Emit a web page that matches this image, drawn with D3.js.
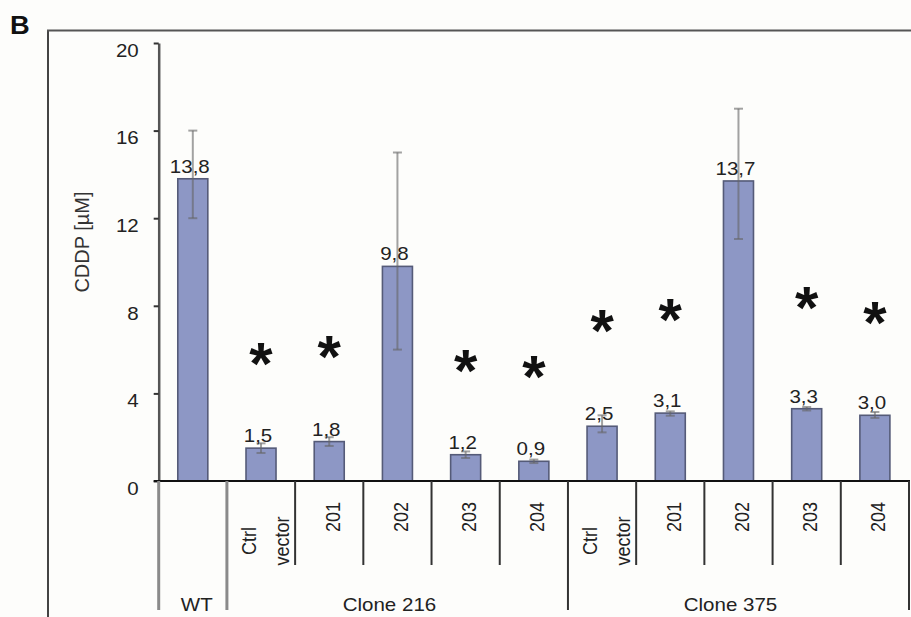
<!DOCTYPE html>
<html>
<head>
<meta charset="utf-8">
<script src="https://cdn.jsdelivr.net/npm/d3@7/dist/d3.min.js"></script>
<style>
  html, body { margin: 0; padding: 0; background: #fdfdfb; }
  svg { display: block; }
  text { font-family: "Liberation Sans", Arial, sans-serif; }
</style>
</head>
<body>
<svg id="chart" width="911" height="617"></svg>
<script>
// ---- data ----
const categories = ["WT", "Ctrl vector", "201", "202", "203", "204", "Ctrl vector", "201", "202", "203", "204"];
const values     = [13.8, 1.5, 1.8, 9.8, 1.2, 0.9, 2.5, 3.1, 13.7, 3.3, 3.0];
const valueLabels = ["13,8", "1,5", "1,8", "9,8", "1,2", "0,9", "2,5", "3,1", "13,7", "3,3", "3,0"];
const errHigh    = [16.0, 1.72, 2.0, 15.0, 1.35, 0.98, 3.0, 3.18, 17.0, 3.38, 3.15];
const errLow     = [12.0, 1.28, 1.6, 6.0, 1.05, 0.82, 2.22, 2.98, 11.05, 3.22, 2.88];
const starY      = [null, 5.75, 6.07, null, 5.43, 5.2, 7.26, 7.76, null, 8.31, 7.63];
const groupNames = ["WT", "Clone 216", "Clone 375"];
const groupStart = [0, 1, 6];
const groupEnd   = [0, 5, 10];
const yTicks     = [0, 4, 8, 12, 16, 20];
const yLabel     = "CDDP [\u00b5M]";
const panelLabel = "B";

// ---- layout ----
const svg = d3.select("#chart");
const x0 = 158.7, x1 = 909, yTop = 43, yZero = 481, yBottom = 610, yShort = 565;
const x = d3.scaleBand().domain(d3.range(categories.length)).range([x0, x1]).padding(0);
const y = d3.scaleLinear().domain([0, 20]).range([yZero, yTop]);
const bw = x.bandwidth();
const barW = bw * 0.44;
const ink = "#222";
const SX = 1.14; // horizontal stretch of the text in the reference

// panel frame
svg.append("line").attr("x1", 48).attr("x2", 48).attr("y1", 30).attr("y2", 617)
  .attr("stroke", "#444").attr("stroke-width", 2);
svg.append("line").attr("x1", 47).attr("x2", 911).attr("y1", 30.5).attr("y2", 30.5)
  .attr("stroke", "#555").attr("stroke-width", 2);
svg.append("text").attr("transform", `translate(10,34) scale(1.05,1)`).text(panelLabel)
  .attr("font-size", 26).attr("font-weight", "bold").attr("fill", "#111");

// y axis
const yAxis = d3.axisLeft(y).tickValues(yTicks).tickSize(5).tickSizeOuter(0).tickPadding(15);
const gy = svg.append("g").attr("transform", `translate(${x0},0)`).call(yAxis);
gy.select(".domain").attr("stroke", "#555").attr("stroke-width", 2.5);
gy.selectAll(".tick line").attr("stroke", "#333").attr("stroke-width", 2);
gy.selectAll(".tick text").attr("font-size", 18).attr("fill", ink)
  .attr("font-family", "'Liberation Sans', Arial, sans-serif").attr("dy", "0.74em")
  .attr("x", -20 / SX).attr("transform", `scale(${SX},1)`);

svg.append("text")
  .attr("transform", `translate(89,${242}) rotate(-90)`)
  .attr("text-anchor", "middle").attr("font-size", 20).attr("fill", "#333")
  .text(yLabel);

// bars
const idx = d3.range(categories.length);
svg.append("g").selectAll("rect").data(idx).join("rect")
  .attr("x", i => x(i) + (bw - barW) / 2)
  .attr("width", barW)
  .attr("y", i => y(values[i]))
  .attr("height", i => y(0) - y(values[i]))
  .attr("fill", "#8d97c5").attr("stroke", "#555b78").attr("stroke-width", 1.6);

// error bars
const eg = svg.append("g").attr("stroke", "#666").attr("stroke-opacity", 0.6).attr("stroke-width", 2);
idx.forEach(i => {
  const cx = x(i) + bw / 2;
  eg.append("line").attr("x1", cx).attr("x2", cx).attr("y1", y(errLow[i])).attr("y2", y(errHigh[i]));
  eg.append("line").attr("x1", cx - 4.5).attr("x2", cx + 4.5).attr("y1", y(errLow[i])).attr("y2", y(errLow[i]));
  eg.append("line").attr("x1", cx - 4.5).attr("x2", cx + 4.5).attr("y1", y(errHigh[i])).attr("y2", y(errHigh[i]));
});

// value labels
svg.append("g").selectAll("text").data(idx).join("text")
  .attr("transform", i => `translate(${x(i) + bw / 2 - 3},${y(values[i]) - 6}) scale(${SX},1)`)
  .attr("text-anchor", "middle").attr("font-size", 18).attr("fill", ink)
  .text(i => valueLabels[i]);

// stars
const starFs = 60;
svg.append("g").selectAll("text").data(idx.filter(i => starY[i] != null)).join("text")
  .attr("x", i => x(i) + bw / 2)
  .attr("y", i => y(starY[i]) + starFs * 0.49)
  .attr("text-anchor", "middle").attr("font-size", starFs).attr("font-weight", "bold")
  .attr("fill", "#111").text("*");

// zero line
svg.append("line").attr("x1", x0 - 5).attr("x2", x1 + 1).attr("y1", yZero).attr("y2", yZero)
  .attr("stroke", "#111").attr("stroke-width", 2);

// separators
const boundaries = d3.range(categories.length + 1);
const isLong = b => b === 0 || groupStart.includes(b) || b === categories.length;
svg.append("g").selectAll("line").data(boundaries).join("line")
  .attr("x1", b => b < categories.length ? x(b) : x1)
  .attr("x2", b => b < categories.length ? x(b) : x1)
  .attr("y1", yZero)
  .attr("y2", b => isLong(b) ? yBottom : yShort)
  .attr("stroke", b => b <= 1 ? "#8a8a8a" : "#333")
  .attr("stroke-width", b => b <= 1 ? 3 : 2);

// category labels (rotated)
const cg = svg.append("g");
idx.forEach(i => {
  const cx = x(i) + bw / 2;
  const name = categories[i];
  if (name === "WT") return;
  if (name.includes(" ")) {
    const parts = name.split(" ");
    [[parts[0], -12], [parts[1], 21]].forEach(([t, dx]) => {
      cg.append("text").attr("transform", `translate(${cx + dx},541) rotate(-90) scale(1,${SX})`)
        .attr("text-anchor", "middle").attr("dy", "0.36em").attr("font-size", 18)
        .attr("fill", ink).text(t);
    });
  } else {
    cg.append("text").attr("transform", `translate(${cx + 3},517) rotate(-90) scale(1,${SX})`)
      .attr("text-anchor", "middle").attr("dy", "0.36em").attr("font-size", 18)
      .attr("fill", ink).text(name);
  }
});

// group labels
svg.append("g").selectAll("text").data(d3.range(groupNames.length)).join("text")
  .attr("transform", g => `translate(${(x(groupStart[g]) + x(groupEnd[g]) + bw) / 2 + (g === 0 ? 4 : -8)},611) scale(${SX},1)`)
  .attr("text-anchor", "middle").attr("font-size", 18).attr("fill", ink)
  .text(g => groupNames[g]);
</script>
</body>
</html>
